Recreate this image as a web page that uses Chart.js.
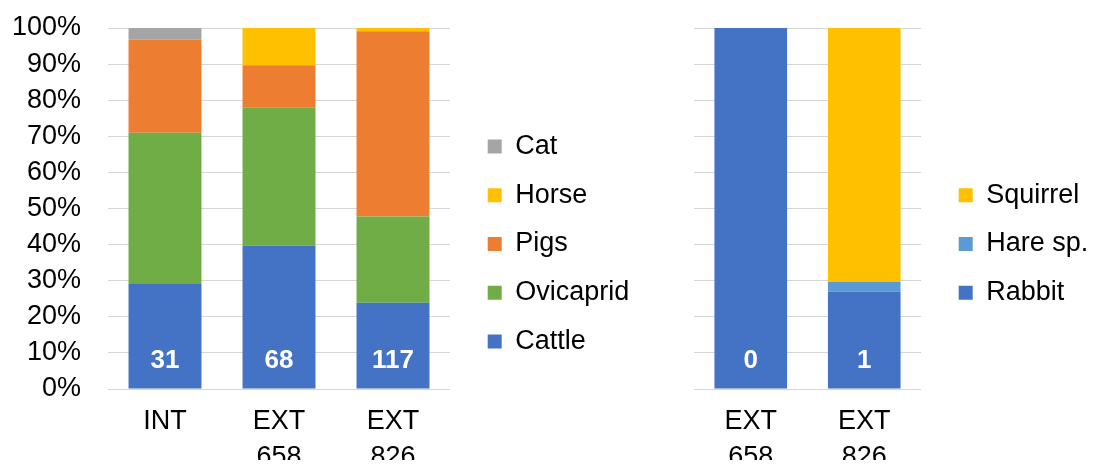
<!DOCTYPE html>
<html>
<head>
<meta charset="utf-8">
<script src="https://cdn.jsdelivr.net/npm/chart.js@4.4.1/dist/chart.umd.min.js"></script>
<style>
  html, body { margin: 0; padding: 0; background: #fff; }
  #wrap { position: relative; width: 1097px; height: 468px; overflow: hidden; }
  canvas { position: absolute; top: 0; }
  #left { left: 0; }
  #right { left: 694px; }
</style>
</head>
<body>
<div id="wrap">
  <canvas id="left" width="660" height="468"></canvas>
  <canvas id="right" width="403" height="468"></canvas>
</div>
<script>
  // left panel: main domesticates (% of NISP)
  const sites = ['INT', ['EXT', '658'], ['EXT', '826']];
  const cattle = [29.1, 39.7, 23.9];
  const ovicaprid = [41.9, 38.2, 23.9];
  const pigs = [25.8, 11.8, 51.3];
  const horse = [0, 10.3, 0.9];
  const cat = [3.2, 0, 0];
  const siteCounts = [31, 68, 117];

  // right panel: wild species
  const wildSites = [['EXT', '658'], ['EXT', '826']];
  const rabbit = [100, 27.0];
  const hare = [0, 2.7];
  const squirrel = [0, 70.3];
  const wildCounts = [0, 1];

  const yTicks = [0, 10, 20, 30, 40, 50, 60, 70, 80, 90, 100];

  Chart.defaults.font.family = "'Liberation Sans', Arial, sans-serif";
  Chart.defaults.font.size = 27;
  Chart.defaults.color = '#000';

  const LABEL_LEVEL = 7.75; // where the count sits inside the bottom segment

  // nudge legend right, away from the plot
  const legendGap = {
    id: 'legendGap',
    afterLayout(chart) {
      chart.legend.left += 16;
      chart.legend.right += 16;
    }
  };

  // white counts in the base of each bar
  function countLabels(counts) {
    return {
      id: 'countLabels',
      afterDatasetsDraw(chart) {
        const ctx = chart.ctx;
        const meta = chart.getDatasetMeta(0);
        const y = chart.scales.y.getPixelForValue(LABEL_LEVEL);
        ctx.save();
        ctx.font = "bold 26px 'Liberation Sans', Arial, sans-serif";
        ctx.fillStyle = '#fff';
        ctx.textAlign = 'center';
        ctx.textBaseline = 'middle';
        meta.data.forEach((bar, i) => ctx.fillText(String(counts[i]), bar.x, y));
        ctx.restore();
      }
    };
  }

  function makeOptions(showYLabels, yWidth) {
    return {
      responsive: false,
      animation: false,
      layout: { padding: { top: 28, right: 0, bottom: 8, left: 0 } },
      scales: {
        x: {
          stacked: true,
          grid: { display: false },
          border: { display: false },
          ticks: { padding: 7, maxRotation: 0, font: { size: 27, lineHeight: 1.333 } },
          afterFit(s) { s.height = 71; }
        },
        y: {
          stacked: true,
          min: 0,
          max: 100,
          afterBuildTicks(s) { s.ticks = yTicks.map(v => ({ value: v })); },
          grid: { color: '#d6d6d6', lineWidth: 1, drawTicks: true, tickLength: 27, tickColor: 'rgba(0,0,0,0)' },
          border: { display: false },
          ticks: { display: showYLabels, autoSkip: false, padding: 0, callback: v => v + '%' },
          afterFit(s) { s.width = yWidth; }
        }
      },
      plugins: {
        legend: {
          position: 'right',
          reverse: true,
          maxWidth: 400,
          labels: { boxWidth: 14, boxHeight: 14, padding: 21.7, color: '#000', font: { size: 27 } }
        },
        tooltip: { enabled: false }
      }
    };
  }

  function bars(label, data, color) {
    return {
      label: label,
      data: data,
      backgroundColor: color,
      borderWidth: 0,
      categoryPercentage: 1,
      barPercentage: 0.64
    };
  }

  // shift padding so the plot area lands where the original had it
  function fitArea(chart, top, right) {
    for (let k = 0; k < 2; k++) {
      const pad = chart.config.options.layout.padding;
      pad.top += top - chart.chartArea.top;
      pad.right += chart.chartArea.right - right;
      chart.update();
    }
  }

  const left = new Chart(document.getElementById('left'), {
    type: 'bar',
    data: {
      labels: sites,
      datasets: [
        bars('Cattle', cattle, '#4472C4'),
        bars('Ovicaprid', ovicaprid, '#70AD47'),
        bars('Pigs', pigs, '#ED7D31'),
        bars('Horse', horse, '#FFC000'),
        bars('Cat', cat, '#A5A5A5')
      ]
    },
    options: makeOptions(true, 108),
    plugins: [legendGap, countLabels(siteCounts)]
  });
  fitArea(left, 28, 450);

  const right = new Chart(document.getElementById('right'), {
    type: 'bar',
    data: {
      labels: wildSites,
      datasets: [
        bars('Rabbit', rabbit, '#4472C4'),
        bars('Hare sp.', hare, '#5B9BD5'),
        bars('Squirrel', squirrel, '#FFC000')
      ]
    },
    options: makeOptions(false, 0),
    plugins: [legendGap, countLabels(wildCounts)]
  });
  fitArea(right, 28, 921 - 694);
</script>
</body>
</html>
